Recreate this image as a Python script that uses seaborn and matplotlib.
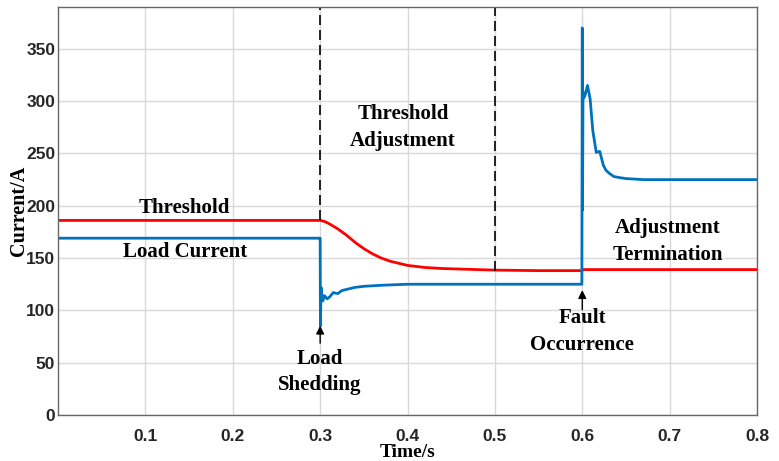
import numpy as np
import matplotlib
matplotlib.use('Agg')
import matplotlib.pyplot as plt
import seaborn as sns
import pandas as pd

# Threshold curve (red)
thr_t = [0.0, 0.295, 0.300, 0.305, 0.310, 0.320, 0.330, 0.340, 0.350, 0.360, 0.370,
         0.380, 0.390, 0.400, 0.420, 0.440, 0.460, 0.480, 0.500, 0.550, 0.600, 0.601, 0.800]
thr_v = [186, 186, 186, 185, 183, 178, 172, 165, 159, 154, 150,
         147, 145, 143, 141, 140, 139.5, 139, 138.5, 138, 138, 139, 139]

# Load current (blue)
cur_t = [0.0, 0.2995, 0.3000, 0.3003, 0.3010, 0.3030, 0.3050, 0.3080, 0.3110, 0.3150,
         0.3200, 0.3250, 0.3300, 0.3400, 0.3500, 0.3700, 0.4000, 0.5000, 0.5995,
         0.6000, 0.6003, 0.6008, 0.6015, 0.6030, 0.6060, 0.6090, 0.6120, 0.6160,
         0.6200, 0.6240, 0.6270, 0.6310, 0.6360, 0.6420, 0.6500, 0.6700, 0.8000]
cur_v = [169, 169, 169, 85, 122, 109, 114, 111, 113, 117,
         116, 119, 120, 122, 123, 124, 125, 125, 125,
         370, 196, 309, 303, 305, 315, 302, 272, 251,
         252, 239, 234, 231, 228, 227, 226, 225, 225]

xticks = [0.1, 0.2, 0.3, 0.4, 0.5, 0.6, 0.7, 0.8]
yticks = [0, 50, 100, 150, 200, 250, 300, 350]

sns.set_theme(style='whitegrid')
plt.rcParams['font.family'] = ['Liberation Sans', 'DejaVu Sans']
plt.rcParams['text.color'] = 'black'
plt.rcParams['axes.labelcolor'] = 'black'

fig = plt.figure(figsize=(7.79, 4.61), dpi=100)
ax = fig.add_axes([0.0745, 0.0998, 0.8973, 0.8850])

thr = pd.DataFrame({'t': thr_t, 'v': thr_v})
cur = pd.DataFrame({'t': cur_t, 'v': cur_v})
sns.lineplot(data=thr, x='t', y='v', ax=ax, color='#ff0000', lw=2, sort=False)
sns.lineplot(data=cur, x='t', y='v', ax=ax, color='#0072bd', lw=2, sort=False)

ax.set_xlim(0, 0.8)
ax.set_ylim(0, 390)
ax.set_xticks(xticks)
ax.set_yticks(yticks)
ax.set_xticklabels([f'{x:g}' for x in xticks], fontsize=12.5, fontweight='bold', color='#262626')
ax.set_yticklabels([str(y) for y in yticks], fontsize=12.5, fontweight='bold', color='#262626')
ax.tick_params(axis='x', length=0, pad=10)
ax.tick_params(axis='y', length=0, pad=2)
ax.grid(True, color='#d9d9d9', lw=1)
for s in ax.spines.values():
    s.set_color('#666666')
    s.set_linewidth(1)

serif = 'Liberation Serif'
ax.set_xlabel('Time/s', fontsize=14, fontweight='bold', family=serif)
ax.set_ylabel('Current/A', fontsize=14.5, fontweight='bold', family=serif)
ax.xaxis.set_label_coords(0.5, -0.071)
ax.yaxis.set_label_coords(-0.042, 0.5)

# dashed markers for the adjustment window
ax.vlines(0.3, 186, 390, colors='black', linestyles=(0, (6, 3)), lw=1.2)
ax.vlines(0.5, 138, 390, colors='black', linestyles=(0, (6, 3)), lw=1.2)

arrow = dict(arrowstyle='-|>', color='black', lw=1, mutation_scale=12)
ax.annotate('', xy=(0.3, 88), xytext=(0.3, 66), arrowprops=arrow)
ax.annotate('', xy=(0.6, 122), xytext=(0.6, 98), arrowprops=arrow)

tk = dict(fontsize=15, fontweight='bold', family=serif, ha='center', va='center',
          linespacing=1.45, color='black')
ax.text(0.145, 198, 'Threshold', **tk)
ax.text(0.145, 156, 'Load Current', **tk)
ax.text(0.395, 275, 'Threshold\nAdjustment', **tk)
ax.text(0.698, 166, 'Adjustment\nTermination', **tk)
ax.text(0.3, 41, 'Load\nShedding', **tk)
ax.text(0.6, 80, 'Fault\nOccurrence', **tk)

fig.savefig('out.png', dpi=100)
